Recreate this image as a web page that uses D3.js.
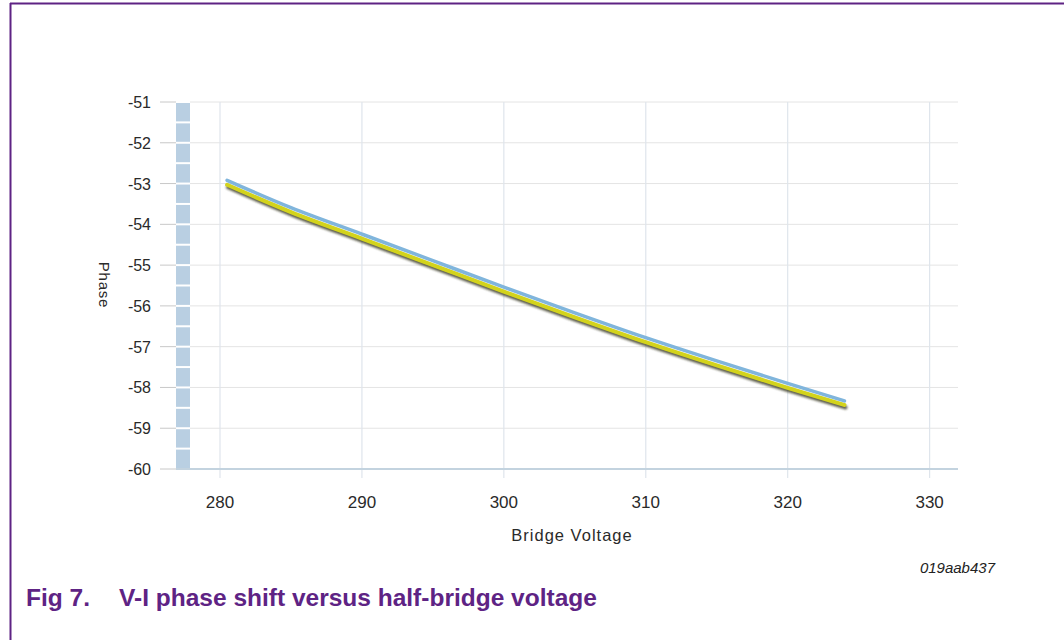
<!DOCTYPE html>
<html><head><meta charset="utf-8">
<script src="https://cdn.jsdelivr.net/npm/d3@7"></script>
<style>body{margin:0;background:#fff}svg{display:block}</style>
</head><body>
<svg id="c" width="1064" height="640"></svg>
<script>
const xTicks = [280, 290, 300, 310, 320, 330];
const yTicks = [-51, -52, -53, -54, -55, -56, -57, -58, -59, -60];
const voltage = [280.5, 285, 290, 295, 300, 305, 310, 315, 320, 324];
const phaseBlue = [-52.92, -53.59, -54.24, -54.89, -55.54, -56.17, -56.78, -57.35, -57.9, -58.33];
const phaseYellow = [-53.03, -53.7, -54.35, -55.0, -55.65, -56.28, -56.89, -57.46, -58.01, -58.43];

const svg = d3.select('#c');
const x = d3.scaleLinear().domain([276.9, 332]).range([176, 958]);
const y = d3.scaleLinear().domain([-60, -51]).range([469, 102]);
const purple = '#5e2384';
const font = 'Arial, Liberation Sans, sans-serif';

// frame
svg.append('line').attr('x1', 10).attr('x2', 1064).attr('y1', 3.5).attr('y2', 3.5).attr('stroke', purple).attr('stroke-width', 2);
svg.append('line').attr('x1', 10.5).attr('x2', 10.5).attr('y1', 3).attr('y2', 640).attr('stroke', purple).attr('stroke-width', 2);

// horizontal grid
svg.append('g').selectAll('line').data(yTicks).join('line')
  .attr('x1', 190).attr('x2', 958).attr('y1', d => y(d)).attr('y2', d => y(d))
  .attr('stroke', '#e4e4e4').attr('stroke-width', 1);
// vertical grid
svg.append('g').selectAll('line').data(xTicks).join('line')
  .attr('x1', d => x(d)).attr('x2', d => x(d)).attr('y1', y(-51)).attr('y2', 478)
  .attr('stroke', '#dfe5ec').attr('stroke-width', 1.2);

// left band
const halfSteps = d3.range(-60, -51, 0.5);
svg.append('g').selectAll('rect').data(halfSteps).join('rect')
  .attr('x', 176).attr('width', 14)
  .attr('y', d => y(d + 0.5) + 1).attr('height', d => y(d) - y(d + 0.5) - 2)
  .attr('fill', '#b9cfe2');
// y tick marks
svg.append('g').selectAll('line').data(yTicks).join('line')
  .attr('x1', 160).attr('x2', 176).attr('y1', d => y(d)).attr('y2', d => y(d))
  .attr('stroke', '#c8c8c8');
// y labels
svg.append('g').selectAll('text').data(yTicks).join('text')
  .attr('x', 151).attr('y', d => y(d) + 6).attr('text-anchor', 'end')
  .attr('font-family', font).attr('font-size', 16).attr('fill', '#2a2a2a')
  .text(d => d);

// bottom axis line
svg.append('line').attr('x1', 176).attr('x2', 958).attr('y1', 469).attr('y2', 469)
  .attr('stroke', '#c3d3df').attr('stroke-width', 2);
// x labels
svg.append('g').selectAll('text').data(xTicks).join('text')
  .attr('x', d => x(d)).attr('y', 508).attr('text-anchor', 'middle')
  .attr('font-family', font).attr('font-size', 17).attr('fill', '#2a2a2a')
  .text(d => d);

svg.append('text').attr('x', 572).attr('y', 541).attr('text-anchor', 'middle')
  .attr('font-family', font).attr('font-size', 16.5).attr('fill', '#2a2a2a')
  .attr('letter-spacing', 1).text('Bridge Voltage');
svg.append('text').attr('transform', 'translate(99,285) rotate(90)').attr('text-anchor', 'middle')
  .attr('font-family', font).attr('font-size', 15).attr('fill', '#2a2a2a')
  .attr('letter-spacing', 0.8).text('Phase');

// lines
const defs = svg.append('defs');
defs.append('filter').attr('id', 'blur').append('feGaussianBlur').attr('stdDeviation', 1.2);
const line = vals => d3.line().x((d, i) => x(voltage[i])).y(d => y(d)).curve(d3.curveMonotoneX)(vals);
svg.append('path').attr('d', line(phaseYellow)).attr('transform', 'translate(1,2.5)')
  .attr('fill', 'none').attr('stroke', '#34341e').attr('stroke-width', 4).attr('opacity', 0.8)
  .attr('filter', 'url(#blur)').attr('stroke-linecap', 'round');
svg.append('path').attr('d', line(phaseYellow)).attr('fill', 'none').attr('stroke', '#d3d31c')
  .attr('stroke-width', 4).attr('stroke-linecap', 'round');
svg.append('path').attr('d', line(phaseBlue)).attr('fill', 'none').attr('stroke', '#80b5dc')
  .attr('stroke-width', 3.5).attr('stroke-linecap', 'round');

// id
svg.append('text').attr('x', 995).attr('y', 573).attr('text-anchor', 'end')
  .attr('font-family', font).attr('font-size', 15).attr('font-style', 'italic')
  .attr('fill', '#222').text('019aab437');

// caption
const cap = svg.append('text').attr('y', 606).attr('font-family', font)
  .attr('font-size', 24.5).attr('font-weight', 'bold').attr('fill', purple);
cap.append('tspan').attr('x', 26).text('Fig 7.');
cap.append('tspan').attr('x', 119).text('V-I phase shift versus half-bridge voltage');
</script>
</body></html>
